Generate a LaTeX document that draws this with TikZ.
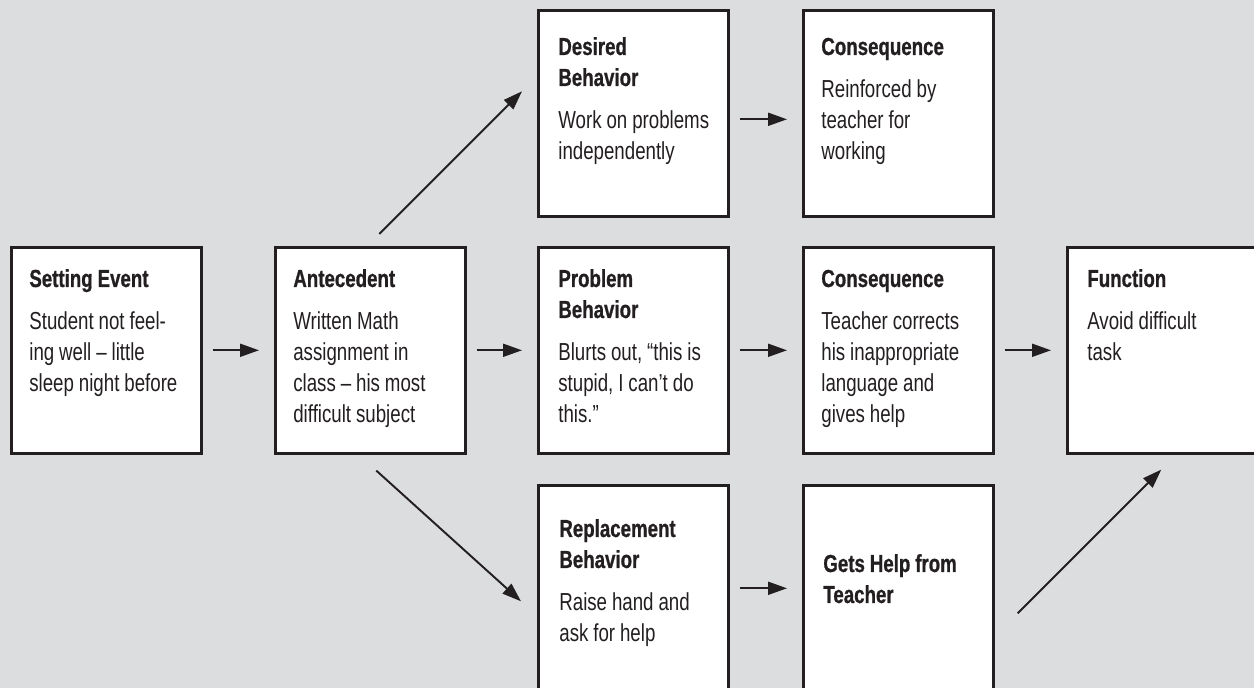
\documentclass[tikz,border=0pt]{standalone}
\usepackage{fontspec}
\setmainfont{Liberation Sans}[FakeStretch=0.76, BoldFeatures={FakeBold=0.8}]
\usetikzlibrary{arrows.meta,calc}
\definecolor{bggray}{RGB}{220,221,223}
\definecolor{ink}{RGB}{35,31,32}
\newcommand{\hgap}{6.3pt}

\begin{document}
\begin{tikzpicture}[x=0.02cm,y=-0.02cm,
  box/.style={draw=ink, line width=1.5pt, fill=white, anchor=north west,
    minimum width=3.8cm, minimum height=4.12cm, inner sep=0pt},
  txt/.style={anchor=base west, text width=3.5cm, align=left, inner sep=0pt,
    text=ink, font=\fontsize{14pt}{17.64pt}\selectfont,
    execute at begin node={\spaceskip=0.2em\xspaceskip=0.25em\relax}},
  arr/.style={draw=ink, line width=1.1pt, -{Triangle[length=0.38cm,width=0.26cm]},
    shorten <=0.2cm, shorten >=0.3cm},
  diag/.style={arr, shorten <=0pt, shorten >=0pt}]
\fill[bggray] (0,0) rectangle (1254,688);
\useasboundingbox (0,0) rectangle (1254,688);

\node[box] (set) at (10,246) {};
\node[box] (ante) at (274,246) {};
\node[box] (desired) at (537,9) {};
\node[box] (cons1) at (802,9) {};
\node[box] (prob) at (537,246) {};
\node[box] (cons2) at (802,246) {};
\node[box] (func) at (1066,246) {};
\node[box] (repl) at (537,484) {};
\node[box] (gets) at (802,484) {};

\node[txt] (settxt) at ($(set.north west)+(19,41)$)
  {\textbf{Setting Event}\\[\hgap]Student not feel-\\ing well – little\\sleep night before};
\node[txt] (antetxt) at ($(ante.north west)+(19,41)$)
  {\textbf{Antecedent}\\[\hgap]Written Math\\assignment in\\class – his most\\difficult subject};
\node[txt] (desiredtxt) at ($(desired.north west)+(21,46)$)
  {\textbf{Desired}\\\textbf{Behavior}\\[\hgap]Work on problems\\independently};
\node[txt] (cons1txt) at ($(cons1.north west)+(19,46)$)
  {\textbf{Consequence}\\[\hgap]Reinforced by\\teacher for\\working};
\node[txt] (probtxt) at ($(prob.north west)+(21,41)$)
  {\textbf{Problem}\\\textbf{Behavior}\\[\hgap]Blurts out, “this is\\stupid, I can’t do\\this.”};
\node[txt] (cons2txt) at ($(cons2.north west)+(19,41)$)
  {\textbf{Consequence}\\[\hgap]Teacher corrects\\his inappropriate\\language and\\gives help};
\node[txt] (functxt) at ($(func.north west)+(21,41)$)
  {\textbf{Function}\\[\hgap]Avoid difficult\\task};
\node[txt] (repltxt) at ($(repl.north west)+(22,53)$)
  {\textbf{Replacement}\\\textbf{Behavior}\\[\hgap]Raise hand and\\ask for help};
\node[txt] (getstxt) at ($(gets.north west)+(21,88)$)
  {\textbf{Gets Help from}\\\textbf{Teacher}};

\draw[arr] (set) -- (ante);
\draw[arr] (ante) -- (prob);
\draw[arr] (prob) -- (cons2);
\draw[arr] (cons2) -- (func);
\draw[arr] ([yshift=-0.12cm]desired.east) -- ([yshift=-0.12cm]cons1.west);
\draw[arr] (repl) -- (gets);
\draw[diag] ($(ante.north)+(9,-12)$) -- ($(desired.west)+(-15,-22)$);
\draw[diag] ($(ante.south)+(6,16)$) -- ($(repl.west)+(-16,13)$);
\draw[diag] ($(gets.east)+(23,25)$) -- ($(func.south)+(-1,15)$);
\end{tikzpicture}
\end{document}
